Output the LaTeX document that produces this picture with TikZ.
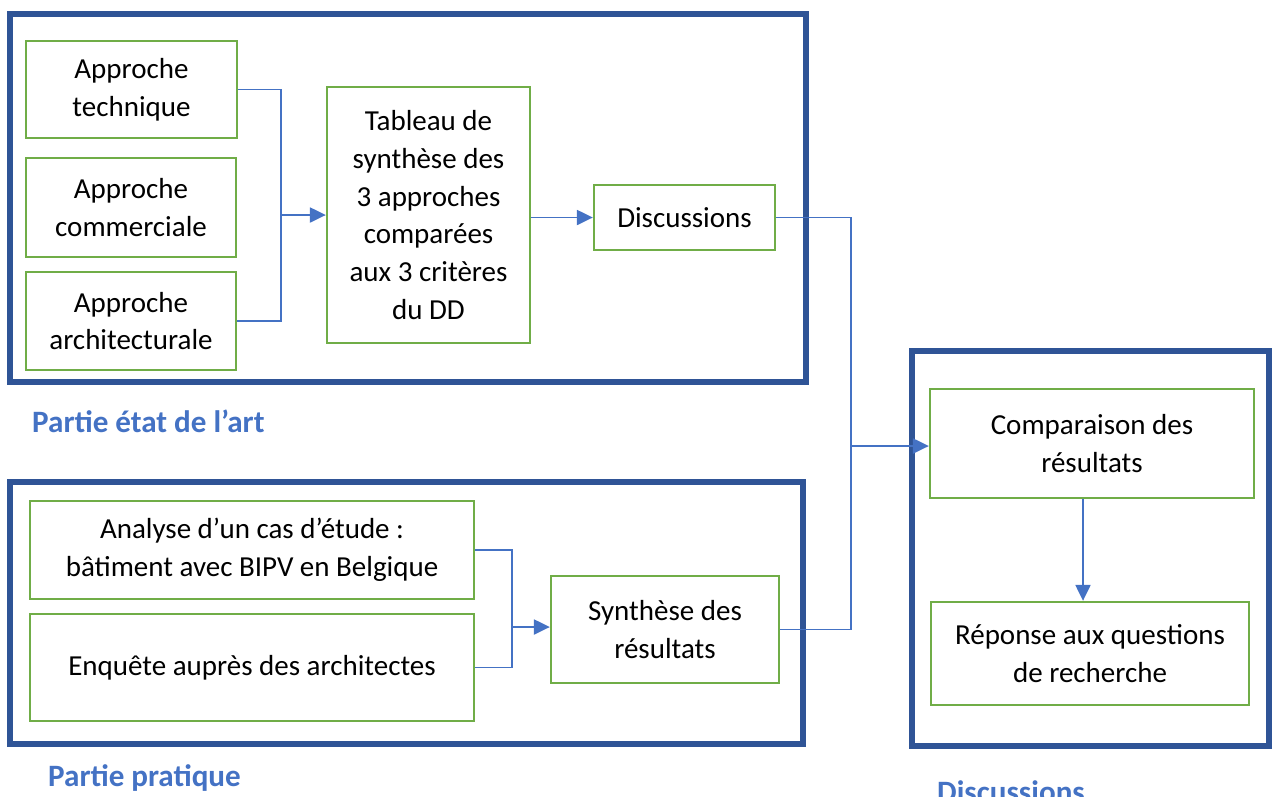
\documentclass[tikz,border=0pt]{standalone}
\usepackage{fontspec}
\setmainfont{Carlito}
\usetikzlibrary{arrows.meta}

\definecolor{frameblue}{HTML}{2F5496}
\definecolor{boxgreen}{HTML}{70AD47}
\definecolor{linkblue}{HTML}{4472C4}

\begin{document}
\begin{tikzpicture}[
  x=0.02cm, y=-0.02cm,
  frame/.style={draw=frameblue, line width=3.4pt},
  box/.style={draw=boxgreen, line width=1.4pt, align=center, inner sep=0pt,
    font=\fontsize{16.5}{21.5}\selectfont},
  link/.style={draw=linkblue, line width=0.8pt},
  partlabel/.style={anchor=west, text=linkblue, font=\fontsize{17.7}{21}\selectfont\bfseries},
  >={Triangle[length=9pt, width=8.6pt]},
]

\useasboundingbox (0,0) rectangle (1272,796);

% outer frames
\draw [frame] (10,14) rectangle (806,382);
\draw [frame] (10,482) rectangle (803,744);
\draw [frame] (912,351) rectangle (1269,746);

\node [partlabel] at (26,421) {Partie état de l’art};
\node [partlabel] at (42,778) {Partie pratique};
\node [partlabel] at (931,792) {Discussions};

% etat de l'art
\node [box, minimum width=4.22cm, minimum height=1.94cm] (tech) at (131.5,89.5) {Approche\\technique};
\node [box, minimum width=4.2cm, minimum height=1.98cm] (comm) at (131,207.5) {Approche\\commerciale};
\node [box, minimum width=4.2cm, minimum height=1.96cm] (archi) at (131,321) {Approche\\architecturale};
\node [box, minimum width=4.06cm, minimum height=5.12cm] (tableau) at (428.5,215) {Tableau de\\synthèse des\\3 approches\\comparées\\aux 3 critères\\du DD};
\node [box, minimum width=3.62cm, minimum height=1.3cm] (disc) at (684.5,217.5) {Discussions};

% pratique
\node [box, minimum width=8.88cm, minimum height=1.96cm] (analyse) at (252,550) {Analyse d’un cas d’étude :\\bâtiment avec BIPV en Belgique};
\node [box, minimum width=8.88cm, minimum height=2.14cm] (enquete) at (252,667.5) {Enquête auprès des architectes};
\node [box, minimum width=4.56cm, minimum height=2.14cm] (synth) at (665,629.5) {Synthèse des\\résultats};

% discussions
\node [box, minimum width=6.48cm, minimum height=2.18cm] (compar) at (1092,443.5) {Comparaison des\\résultats};
\node [box, minimum width=6.36cm, minimum height=2.06cm] (reponse) at (1090,653.5) {Réponse aux questions\\de recherche};

% connectors
\coordinate (j1) at (281,215);
\coordinate (j2) at (512,627);
\coordinate (j3) at (851,446);

\draw [link] (tech.east) -| (j1);
\draw [link] (archi.east) -| (j1);
\draw [link, ->] (j1) -- (tableau.west);
\draw [link, ->] (tableau.east |- disc.west) -- (disc.west);

\draw [link] (analyse.east) -| (j2);
\draw [link] (enquete.east) -| (j2);
\draw [link, ->] (j2) -- (j2 -| synth.west);

\draw [link] (disc.east) -| (j3);
\draw [link] (synth.east) -| (j3);
\draw [link, ->] (j3) -- (j3 -| compar.west);
\draw [link, ->] (compar.south -| 1083,0) -- (reponse.north -| 1083,0);

\end{tikzpicture}
\end{document}
